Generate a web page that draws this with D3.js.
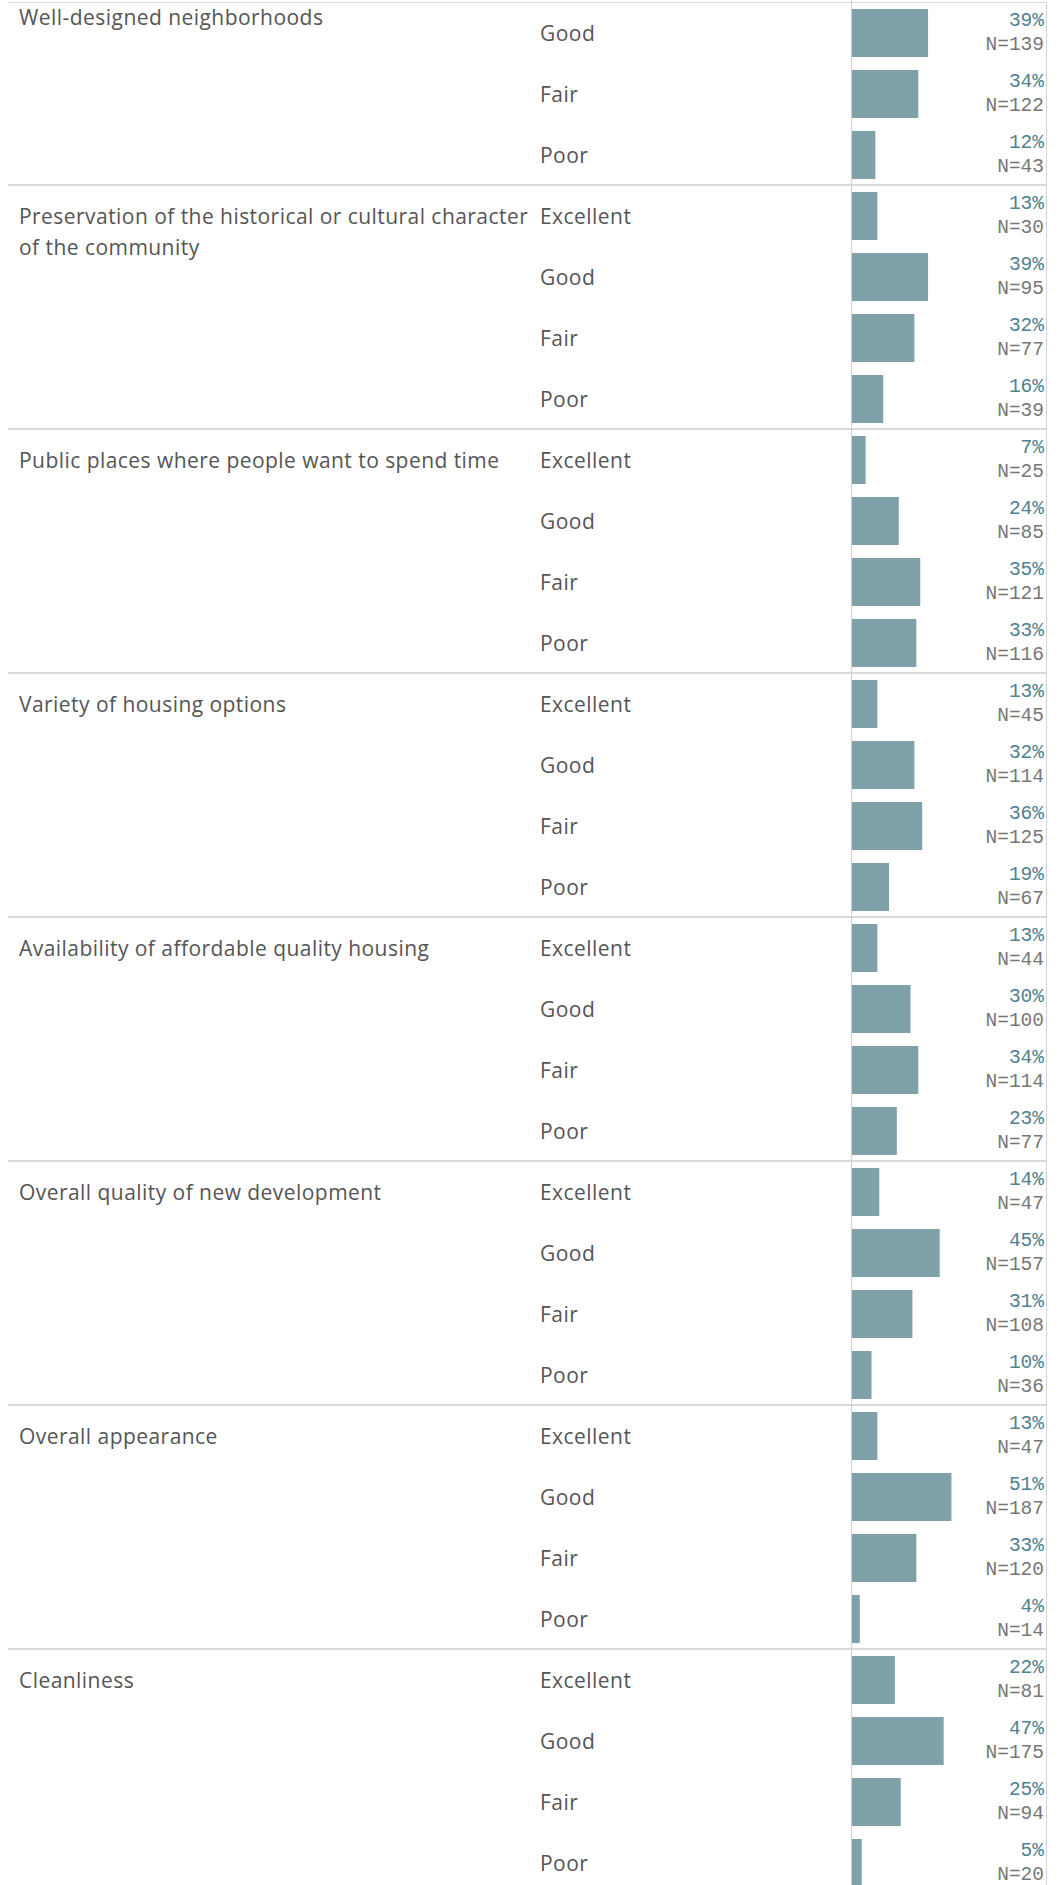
<!DOCTYPE html>
<html>
<head>
<meta charset="utf-8">
<script src="https://cdn.jsdelivr.net/npm/d3@7/dist/d3.min.js"></script>
<style>
  html, body { margin: 0; padding: 0; background: #ffffff; }
  svg { display: block; }
</style>
</head>
<body>
<div id="chart"></div>
<script>
// ---- data ----
const groupNames = [
  "Well-designed neighborhoods",
  "Preservation of the historical or cultural character|of the community",
  "Public places where people want to spend time",
  "Variety of housing options",
  "Availability of affordable quality housing",
  "Overall quality of new development",
  "Overall appearance",
  "Cleanliness"
];
// the first group is scrolled so that its "Excellent" row is out of view
const groupRatings = [
  ["Good", "Fair", "Poor"],
  ["Excellent", "Good", "Fair", "Poor"],
  ["Excellent", "Good", "Fair", "Poor"],
  ["Excellent", "Good", "Fair", "Poor"],
  ["Excellent", "Good", "Fair", "Poor"],
  ["Excellent", "Good", "Fair", "Poor"],
  ["Excellent", "Good", "Fair", "Poor"],
  ["Excellent", "Good", "Fair", "Poor"]
];
const groupPct = [
  [39, 34, 12],
  [13, 39, 32, 16],
  [7, 24, 35, 33],
  [13, 32, 36, 19],
  [13, 30, 34, 23],
  [14, 45, 31, 10],
  [13, 51, 33, 4],
  [22, 47, 25, 5]
];
const groupN = [
  [139, 122, 43],
  [30, 95, 77, 39],
  [25, 85, 121, 116],
  [45, 114, 125, 67],
  [44, 100, 114, 77],
  [47, 157, 108, 36],
  [47, 187, 120, 14],
  [81, 175, 94, 20]
];

// ---- layout ----
const W = 1062, H = 1885;
const rowStep = 61;
const top0 = 2.5;
const paneLeft = 852, paneRight = 1047;
const labelX = 19, ratingX = 540, valueX = 1044;
const barColor = "#7fa2aa";
const pctColor = "#4f8190";
const nColor = "#777777";
const textColor = "#555555";
const sepColor = "#d9d9d9";
const labelFont = "'Open Sans', 'Noto Sans', sans-serif";
const labelSize = "21px";
const labelSpacing = "0.45px";

const rows = [];
groupNames.forEach((g, gi) => {
  groupRatings[gi].forEach((r, ri) => {
    rows.push({ key: gi + "-" + r, group: gi, first: ri === 0, rating: r, pct: groupPct[gi][ri], n: groupN[gi][ri] });
  });
});

const y = d3.scaleBand()
  .domain(rows.map(d => d.key))
  .range([top0, top0 + rows.length * rowStep])
  .paddingInner(13 / 61)
  .paddingOuter(6.5 / 61);

const x = d3.scaleLinear().domain([0, 100]).range([paneLeft, paneRight]);

const svg = d3.select("#chart").append("svg")
  .attr("width", W).attr("height", H)
  .attr("viewBox", `0 0 ${W} ${H}`);

// group separators (boundaries at start of each group)
const groupStarts = rows.filter(d => d.first).map(d => d.key);
svg.append("g").selectAll("line").data(groupStarts).join("line")
  .attr("x1", 8).attr("x2", paneRight)
  .attr("y1", (k, i) => y(k) - y.step() * y.paddingInner() / 2 + (i === 0 ? 0 : -0.5))
  .attr("y2", (k, i) => y(k) - y.step() * y.paddingInner() / 2 + (i === 0 ? 0 : -0.5))
  .attr("stroke", sepColor)
  .attr("stroke-width", (k, i) => i === 0 ? 1 : 2);

// axis (zero line) and right border
svg.append("line")
  .attr("x1", x(0) - 0.5).attr("x2", x(0) - 0.5)
  .attr("y1", 0).attr("y2", H)
  .attr("stroke", "#cfcfcf").attr("stroke-width", 1);
svg.append("line")
  .attr("x1", paneRight - 0.5).attr("x2", paneRight - 0.5)
  .attr("y1", top0 - 0.5).attr("y2", H)
  .attr("stroke", "#d4d4d4").attr("stroke-width", 1);

// bars
svg.append("g").selectAll("rect").data(rows).join("rect")
  .attr("x", x(0))
  .attr("y", d => y(d.key))
  .attr("width", d => x(d.pct) - x(0))
  .attr("height", y.bandwidth())
  .attr("fill", barColor);

// value labels
const vals = svg.append("g")
  .attr("font-family", "'Liberation Mono', 'Courier New', monospace")
  .attr("font-size", "19.5px")
  .attr("text-anchor", "end");
vals.selectAll("text.pct").data(rows).join("text")
  .attr("class", "pct")
  .attr("x", valueX)
  .attr("y", d => y(d.key) + 17)
  .attr("fill", pctColor)
  .text(d => d.pct + "%");
vals.selectAll("text.n").data(rows).join("text")
  .attr("class", "n")
  .attr("x", valueX)
  .attr("y", d => y(d.key) + 40.5)
  .attr("fill", nColor)
  .text(d => "N=" + d.n);

// rating labels
svg.append("g")
  .attr("font-family", labelFont)
  .attr("font-size", labelSize)
  .attr("letter-spacing", labelSpacing)
  .attr("fill", textColor)
  .selectAll("text").data(rows).join("text")
  .attr("x", ratingX)
  .attr("y", d => y(d.key) + y.bandwidth() / 2 + 8)
  .text(d => d.rating);

// group labels
const firstRows = rows.filter(d => d.first);
const gl = svg.append("g")
  .attr("font-family", labelFont)
  .attr("font-size", labelSize)
  .attr("letter-spacing", labelSpacing)
  .attr("fill", textColor)
  .selectAll("text").data(firstRows).join("text")
  .attr("x", labelX)
  .attr("y", (d, i) => i === 0 ? 25 : y(d.key) + y.bandwidth() / 2 + 8);
gl.selectAll("tspan").data(d => groupNames[d.group].split("|")).join("tspan")
  .attr("x", labelX)
  .attr("dy", (s, i) => i === 0 ? 0 : 31)
  .text(s => s);
</script>
</body>
</html>
